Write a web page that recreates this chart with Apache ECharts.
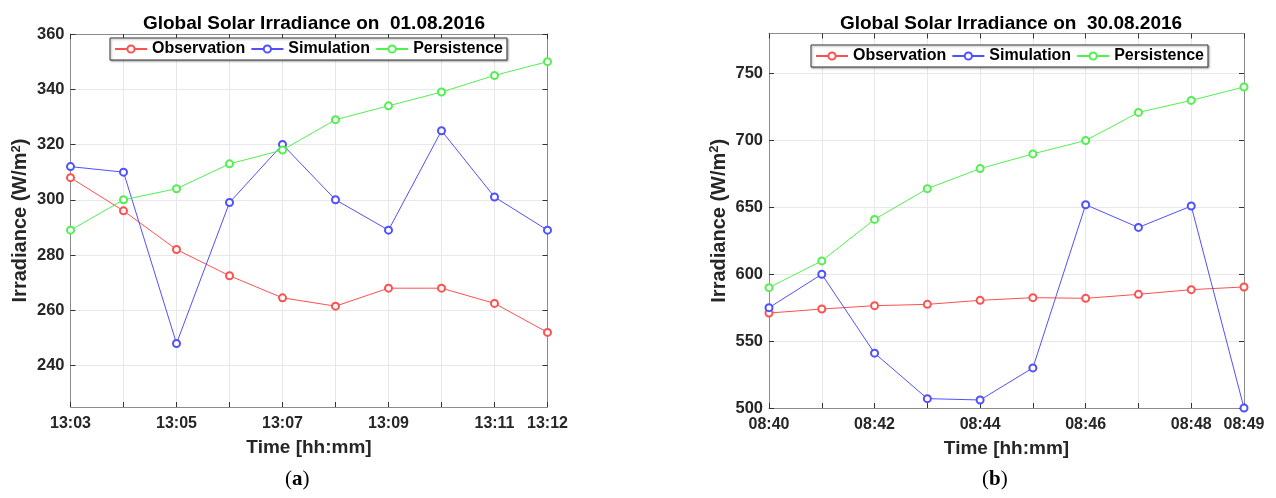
<!DOCTYPE html>
<html>
<head>
<meta charset="utf-8">
<script src="https://cdn.jsdelivr.net/npm/echarts@6/dist/echarts.min.js"></script>
<style>
html,body{margin:0;padding:0;background:#fff;}
#chart{width:1276px;height:498px;}
</style>
</head>
<body>
<div id="chart"></div>
<script>
// ---- Data ----
const timesA = ['13:03','13:04','13:05','13:06','13:07','13:08','13:09','13:10','13:11','13:12'];
const obsA  = [308, 296, 282, 272.5, 264.5, 261.5, 268, 268, 262.5, 252];
const simA  = [312, 310, 248, 299, 320, 300, 289, 325, 301, 289];
const perA  = [289, 300, 304, 313, 318, 329, 334, 339, 345, 350];
const yTicksA = [240, 260, 280, 300, 320, 340, 360];

const timesB = ['08:40','08:41','08:42','08:43','08:44','08:45','08:46','08:47','08:48','08:49'];
const obsB  = [571, 574, 576.5, 577.5, 580.5, 582.5, 582, 585, 588.5, 590.5];
const simB  = [575, 600, 541, 507, 506, 530, 652, 635, 651, 500];
const perB  = [590, 610, 641, 664, 679, 690, 700, 721, 730, 740];
const yTicksB = [500, 550, 600, 650, 700, 750];

const seriesNames = ['Observation', 'Simulation', 'Persistence'];
const titles = ['Global Solar Irradiance on  01.08.2016', 'Global Solar Irradiance on  30.08.2016'];

// ---- Styling ----
const FONT = '"Liberation Sans", Arial, Helvetica, sans-serif';
const colors = ['#ff5050', '#5050ff', '#50f050'];
const labelShown = (i) => i % 2 === 0 || i === 9;

function xAxes(gridIndex, data) {
  const common = {
    type: 'category', data: data, gridIndex: gridIndex, boundaryGap: false,
    axisLine: {show: true, lineStyle: {color: '#8c8c8c', width: 1}},
    axisTick: {show: true, inside: true, length: 5, interval: 0, lineStyle: {color: '#333'}},
    splitLine: {show: false}
  };
  return [
    Object.assign({}, common, {
      position: 'bottom',
      name: 'Time [hh:mm]', nameLocation: 'middle', nameGap: 31,
      nameTextStyle: {fontFamily: FONT, fontWeight: 'bold', fontSize: 19, color: '#262626'},
      axisLabel: {interval: labelShown, margin: 9, fontFamily: FONT, fontWeight: 'bold', fontSize: 16, color: '#262626'},
      splitLine: {show: true, interval: 0, lineStyle: {color: '#e8e8e8', width: 1}}
    }),
    Object.assign({}, common, {position: 'top', axisLabel: {show: false}})
  ];
}

function yAxes(gridIndex, min, max, ticks) {
  const common = {
    type: 'value', gridIndex: gridIndex, min: min, max: max,
    axisLine: {show: true, lineStyle: {color: '#8c8c8c', width: 1}},
    axisTick: {show: true, inside: true, length: 5, customValues: ticks, lineStyle: {color: '#333'}},
    splitLine: {show: false}
  };
  const main = Object.assign({}, common, {
    position: 'left',
    name: '{a|Irradiance (W/m}{s|2}{a|)}', nameLocation: 'middle', nameGap: 39, nameRotate: 90,
    nameTextStyle: {fontFamily: FONT, fontWeight: 'bold', fontSize: 20, color: '#262626',
      rich: {
        a: {fontFamily: FONT, fontWeight: 'bold', fontSize: 20, color: '#262626'},
        s: {fontFamily: FONT, fontWeight: 'bold', fontSize: 13, color: '#262626', padding: [0, 0, 9, 0]}
      }},
    axisLabel: {margin: 6, customValues: ticks, fontFamily: FONT, fontWeight: 'bold', fontSize: 16.5, color: '#262626'},
    splitLine: {show: true, lineStyle: {color: '#e8e8e8', width: 1}}
  });
  const side = Object.assign({}, common, {position: 'right', axisLabel: {show: false}});
  return [main, side];
}

function mkSeries(name, data, color, xi, yi) {
  return {
    name: name, type: 'line', data: data, xAxisIndex: xi, yAxisIndex: yi,
    symbol: 'emptyCircle', symbolSize: 7, showSymbol: true,
    lineStyle: {color: color, width: 1},
    itemStyle: {color: color, borderColor: color, borderWidth: 1},
    emphasis: {disabled: true}, animation: false, z: 3
  };
}

function legendAt(left, top) {
  return {
    left: left, top: top, orient: 'horizontal', data: seriesNames,
    itemWidth: 32, itemHeight: 9, itemGap: 5, padding: [3, 4],
    backgroundColor: '#fff', borderColor: '#3a3a3a', borderWidth: 1,
    shadowColor: 'rgba(0,0,0,0.35)', shadowBlur: 2, shadowOffsetX: 1, shadowOffsetY: 1,
    textStyle: {fontFamily: FONT, fontWeight: 'bold', fontSize: 16, color: '#000'},
    selectedMode: false
  };
}

const chart = echarts.init(document.getElementById('chart'), null, {renderer: 'canvas'});
const xa = xAxes(0, timesA), xb = xAxes(1, timesB);
const ya = yAxes(0, 225, 360, yTicksA), yb = yAxes(1, 500, 780, yTicksB);

chart.setOption({
  animation: false,
  backgroundColor: '#fff',
  title: [
    {text: titles[0], left: 309, top: 9, textAlign: 'center',
     textStyle: {fontFamily: FONT, fontWeight: 'bold', fontSize: 19, color: '#000'}},
    {text: titles[1], left: 1006, top: 9, textAlign: 'center',
     textStyle: {fontFamily: FONT, fontWeight: 'bold', fontSize: 19, color: '#000'}}
  ],
  legend: [legendAt(110, 38), legendAt(811, 45)],
  grid: [
    {left: 70.5, right: 728.5, top: 34, bottom: 91, containLabel: false},
    {left: 769, right: 32, top: 33.5, bottom: 90, containLabel: false}
  ],
  xAxis: [xa[0], xa[1], xb[0], xb[1]],
  yAxis: [ya[0], ya[1], yb[0], yb[1]],
  series: [
    mkSeries(seriesNames[0], obsA, colors[0], 0, 0),
    mkSeries(seriesNames[1], simA, colors[1], 0, 0),
    mkSeries(seriesNames[2], perA, colors[2], 0, 0),
    mkSeries(seriesNames[0], obsB, colors[0], 2, 2),
    mkSeries(seriesNames[1], simB, colors[1], 2, 2),
    mkSeries(seriesNames[2], perB, colors[2], 2, 2)
  ],
  graphic: [
    {type: 'text', left: 285, top: 469,
     style: {text: '{p|(}{b|a}{p|)}', rich: {
       p: {fontFamily: '"Liberation Serif", "DejaVu Serif", serif', fontSize: 21, fill: '#000'},
       b: {fontFamily: '"Liberation Serif", "DejaVu Serif", serif', fontSize: 21, fontWeight: 'bold', fill: '#000'}}}},
    {type: 'text', left: 982, top: 469,
     style: {text: '{p|(}{b|b}{p|)}', rich: {
       p: {fontFamily: '"Liberation Serif", "DejaVu Serif", serif', fontSize: 21, fill: '#000'},
       b: {fontFamily: '"Liberation Serif", "DejaVu Serif", serif', fontSize: 21, fontWeight: 'bold', fill: '#000'}}}}
  ]
});
</script>
</body>
</html>
